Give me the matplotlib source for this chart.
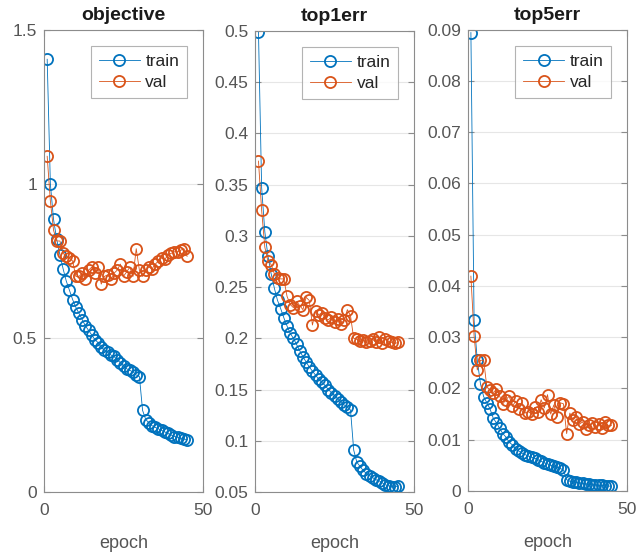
import matplotlib
matplotlib.use("Agg")
import matplotlib.pyplot as plt
from matplotlib.ticker import FuncFormatter
import numpy as np

epochs = list(range(1, 46))

obj_train = [1.405, 1.00, 0.885, 0.82, 0.77, 0.725, 0.685, 0.655, 0.625, 0.60,
             0.58, 0.56, 0.54, 0.525, 0.51, 0.495, 0.485, 0.47, 0.46, 0.455,
             0.445, 0.44, 0.43, 0.42, 0.41, 0.40, 0.395, 0.39, 0.38, 0.375,
             0.265, 0.235, 0.225, 0.215, 0.21, 0.205, 0.20, 0.195, 0.19, 0.185,
             0.18, 0.178, 0.175, 0.172, 0.17]
obj_val = [1.09, 0.945, 0.85, 0.815, 0.815, 0.775, 0.765, 0.76, 0.75, 0.70,
           0.70, 0.71, 0.69, 0.72, 0.73, 0.71, 0.73, 0.675, 0.70, 0.705,
           0.69, 0.71, 0.72, 0.74, 0.70, 0.715, 0.73, 0.70, 0.79, 0.72,
           0.70, 0.72, 0.73, 0.725, 0.74, 0.75, 0.76, 0.755, 0.77, 0.775,
           0.78, 0.78, 0.785, 0.79, 0.765]

top1_train = [0.499, 0.347, 0.304, 0.28, 0.263, 0.249, 0.237, 0.229, 0.22, 0.212,
              0.205, 0.20, 0.194, 0.188, 0.182, 0.177, 0.172, 0.168, 0.164, 0.160,
              0.157, 0.154, 0.150, 0.147, 0.144, 0.141, 0.138, 0.135, 0.133, 0.130,
              0.091, 0.079, 0.075, 0.071, 0.068, 0.066, 0.064, 0.062, 0.061, 0.059,
              0.057, 0.056, 0.055, 0.055, 0.056]
top1_val = [0.373, 0.325, 0.289, 0.275, 0.272, 0.263, 0.259, 0.258, 0.258, 0.241,
            0.233, 0.230, 0.236, 0.232, 0.228, 0.240, 0.237, 0.213, 0.227, 0.223,
            0.225, 0.220, 0.218, 0.221, 0.216, 0.219, 0.214, 0.218, 0.228, 0.222,
            0.200, 0.199, 0.197, 0.198, 0.196, 0.197, 0.199, 0.196, 0.201, 0.195,
            0.199, 0.197, 0.196, 0.195, 0.196]

top5_train = [0.0894, 0.0333, 0.0255, 0.0209, 0.0184, 0.0172, 0.0160, 0.0142, 0.0133, 0.0122,
              0.0112, 0.0105, 0.0095, 0.0090, 0.0082, 0.0078, 0.0074, 0.0071, 0.0068, 0.0066,
              0.0064, 0.0061, 0.0058, 0.0055, 0.0053, 0.0050, 0.0048, 0.0046, 0.0044, 0.0041,
              0.0022, 0.0019, 0.0018, 0.0017, 0.0016, 0.0015, 0.0014, 0.0013, 0.0012, 0.0012,
              0.0011, 0.0011, 0.0010, 0.0010, 0.0009]
top5_val = [0.0419, 0.0303, 0.0236, 0.0255, 0.0255, 0.0203, 0.0197, 0.0192, 0.0198, 0.0185,
            0.0170, 0.0178, 0.0185, 0.0165, 0.0175, 0.0160, 0.0172, 0.0152, 0.0155, 0.0150,
            0.0163, 0.0155, 0.0178, 0.0162, 0.0188, 0.0150, 0.0168, 0.0145, 0.0172, 0.0170,
            0.0112, 0.0152, 0.0138, 0.0145, 0.0130, 0.0135, 0.0120, 0.0128, 0.0132, 0.0125,
            0.0130, 0.0122, 0.0135, 0.0128, 0.0128]

titles = ["objective", "top1err", "top5err"]
train_series = [obj_train, top1_train, top5_train]
val_series = [obj_val, top1_val, top5_val]
ylims = [(0, 1.5), (0.05, 0.5), (0, 0.09)]
yticks = [np.arange(0, 1.51, 0.5), np.arange(0.05, 0.501, 0.05), np.arange(0, 0.0901, 0.01)]

plt.rcParams['font.family'] = ['Liberation Sans', 'DejaVu Sans']

BLUE = '#0072BD'
ORANGE = '#D95319'
TXT = '#555555'
SPINE = '#8c8c8c'

fig = plt.figure(figsize=(6.38, 5.54), dpi=100)
W, H = 638, 554
boxes = [(44, 203, 30, 492), (255.3, 414, 31, 492), (467.7, 627.3, 29.5, 491)]

fmt = FuncFormatter(lambda v, p: ('%g' % round(v, 4)))

for i, (x0, x1, y0, y1) in enumerate(boxes):
    ax = fig.add_axes([x0 / W, 1 - y1 / H, (x1 - x0) / W, (y1 - y0) / H])
    ax.plot(epochs, train_series[i], '-o', color=BLUE, lw=0.6, ms=8,
            mfc='none', mew=1.3, label='train')
    ax.plot(epochs, val_series[i], '-o', color=ORANGE, lw=0.6, ms=8,
            mfc='none', mew=1.3, label='val')
    ax.set_xlim(0, 50)
    ax.set_ylim(*ylims[i])
    ax.set_xticks([0, 50])
    ax.set_yticks(yticks[i])
    ax.yaxis.set_major_formatter(fmt)
    ax.grid(axis='y', color='#e6e6e6', lw=0.8)
    ax.set_axisbelow(True)
    for s in ax.spines.values():
        s.set_color(SPINE)
        s.set_linewidth(0.8)
    ax.tick_params(direction='in', length=4, width=0.8, colors=SPINE,
                   labelcolor=TXT, labelsize=12.5, top=True, right=True, pad=5)
    ax.tick_params(axis='x', pad=8)
    ax.set_title(titles[i], fontsize=14, fontweight='bold', color='#1a1a1a', pad=7)
    ax.set_xlabel('epoch', fontsize=13, color=TXT, labelpad=12)
    leg = ax.legend(loc='upper right', bbox_to_anchor=(0.9, 0.965), fontsize=12.5,
                    frameon=True, fancybox=False, edgecolor='#a0a0a0',
                    handlelength=2.4, borderpad=0.45, labelspacing=0.35,
                    handletextpad=0.3, borderaxespad=0)
    leg.get_frame().set_linewidth(0.8)
    for t in leg.get_texts():
        t.set_color('#262626')

fig.savefig('out.png', dpi=100, facecolor='white')
